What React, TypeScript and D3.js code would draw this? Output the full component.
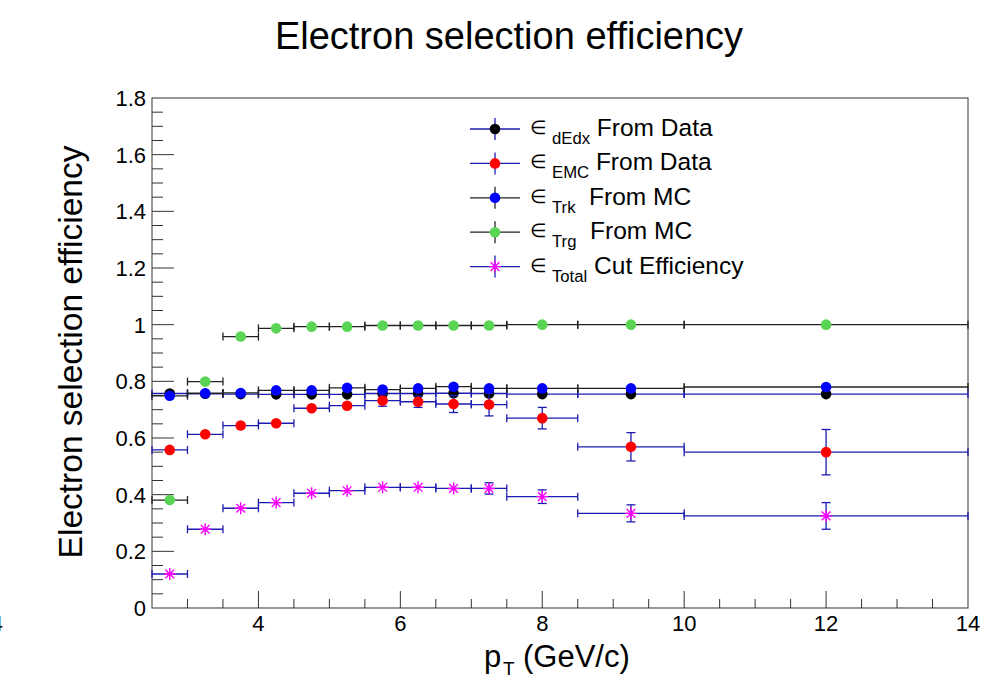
import { useEffect, useRef } from "react";
import * as d3 from "d3";

// bins in pT (GeV/c)
const binLo = [2.5, 3, 3.5, 4, 4.5, 5, 5.5, 6, 6.5, 7, 7.5, 8.5, 10];
const binHi = [3, 3.5, 4, 4.5, 5, 5.5, 6, 6.5, 7, 7.5, 8.5, 10, 14];
const binCenter = [2.75, 3.25, 3.75, 4.25, 4.75, 5.25, 5.75, 6.25, 6.75, 7.25, 8, 9.25, 12];

const effDedx = [0.757, 0.756, 0.755, 0.754, 0.754, 0.754, 0.757, 0.757, 0.758, 0.757, 0.755, 0.755, 0.755];
const errDedx = [0.005, 0.005, 0.005, 0.005, 0.005, 0.005, 0.005, 0.005, 0.005, 0.005, 0.005, 0.005, 0.005];

const effEmc = [0.558, 0.613, 0.644, 0.652, 0.705, 0.714, 0.732, 0.728, 0.72, 0.718, 0.67, 0.569, 0.55];
const errEmc = [0.01, 0.01, 0.01, 0.01, 0.012, 0.012, 0.02, 0.02, 0.03, 0.04, 0.038, 0.05, 0.08];

const effTrk = [0.749, 0.758, 0.759, 0.768, 0.768, 0.777, 0.771, 0.775, 0.781, 0.775, 0.775, 0.775, 0.78];
const errTrk = [0.005, 0.005, 0.005, 0.005, 0.005, 0.005, 0.005, 0.005, 0.005, 0.005, 0.005, 0.005, 0.005];

const effTrg = [0.381, 0.799, 0.958, 0.987, 0.993, 0.993, 0.997, 0.997, 0.997, 0.997, 1.0, 1.0, 1.0];
const errTrg = [0.005, 0.005, 0.005, 0.005, 0.005, 0.005, 0.005, 0.005, 0.005, 0.005, 0.005, 0.005, 0.005];

const effTotal = [0.12, 0.278, 0.352, 0.372, 0.405, 0.414, 0.426, 0.426, 0.422, 0.422, 0.393, 0.334, 0.325];
const errTotal = [0.006, 0.006, 0.006, 0.006, 0.008, 0.008, 0.01, 0.01, 0.015, 0.02, 0.024, 0.03, 0.047];

const yTicks = [0, 0.2, 0.4, 0.6, 0.8, 1, 1.2, 1.4, 1.6, 1.8];
const xTicks = [4, 6, 8, 10, 12, 14];

const series = [
  { key: "dEdx", sub: "dEdx", text: " From Data", eff: effDedx, err: errDedx, marker: "circle", color: "#000000", line: "#1c1cb0" },
  { key: "EMC", sub: "EMC", text: " From Data", eff: effEmc, err: errEmc, marker: "circle", color: "#ff0000", line: "#1c1cb0" },
  { key: "Trk", sub: "Trk", text: "  From MC", eff: effTrk, err: errTrk, marker: "circle", color: "#0000ff", line: "#222222" },
  { key: "Trg", sub: "Trg", text: "  From MC", eff: effTrg, err: errTrg, marker: "circle", color: "#59d454", line: "#222222" },
  { key: "Total", sub: "Total", text: " Cut Efficiency", eff: effTotal, err: errTotal, marker: "star", color: "#ff00ff", line: "#1c1cb0" },
];

const W = 996;
const H = 679;
const FONT = "'Liberation Sans', Arial, Helvetica, sans-serif";

function drawMarker(g: any, kind: string, color: string, cx: number, cy: number) {
  if (kind === "circle") {
    g.append("circle").attr("cx", cx).attr("cy", cy).attr("r", 5.3).attr("fill", color);
  } else {
    const s = 6;
    const d = s * 0.72;
    g.append("path")
      .attr("d", `M${cx - s},${cy}H${cx + s}M${cx},${cy - s}V${cy + s}M${cx - d},${cy - d}L${cx + d},${cy + d}M${cx - d},${cy + d}L${cx + d},${cy - d}`)
      .attr("stroke", color)
      .attr("stroke-width", 1.4)
      .attr("fill", "none");
  }
}

export default function App() {
  const ref = useRef<SVGSVGElement>(null);

  useEffect(() => {
    const svg = d3.select(ref.current);
    svg.selectAll("*").remove();

    const x = d3.scaleLinear().domain([2.5, 14]).range([152, 968]);
    const y = d3.scaleLinear().domain([0, 1.8]).range([608, 98]);

    // frame
    svg.append("rect")
      .attr("x", 152).attr("y", 98)
      .attr("width", 968 - 152).attr("height", 608 - 98)
      .attr("fill", "none").attr("stroke", "#333").attr("stroke-width", 1);

    const axis = svg.append("g").attr("stroke", "#333").attr("stroke-width", 1);
    // x ticks
    d3.range(3, 14, 0.5).forEach((v) => {
      const major = Math.abs(v % 2) < 1e-9;
      axis.append("line")
        .attr("x1", x(v)).attr("x2", x(v))
        .attr("y1", 608).attr("y2", 608 - (major ? 17 : 9));
    });
    // y ticks
    d3.range(0.05, 1.8, 0.05).forEach((v) => {
      const major = Math.abs(v / 0.2 - Math.round(v / 0.2)) < 1e-6;
      axis.append("line")
        .attr("x1", 152).attr("x2", 152 + (major ? 22 : 11))
        .attr("y1", y(v)).attr("y2", y(v));
    });

    const fmt = d3.format("");
    svg.append("g")
      .selectAll("text")
      .data(xTicks)
      .join("text")
      .attr("x", (d) => x(d))
      .attr("y", 631)
      .attr("text-anchor", "middle")
      .attr("font-family", FONT)
      .attr("font-size", 22)
      .text((d) => fmt(d));

    svg.append("g")
      .selectAll("text")
      .data(yTicks)
      .join("text")
      .attr("x", 146)
      .attr("y", (d) => y(d) + 8)
      .attr("text-anchor", "end")
      .attr("font-family", FONT)
      .attr("font-size", 22)
      .text((d) => fmt(d));

    // stray label at the left edge
    svg.append("text")
      .attr("x", 3).attr("y", 631)
      .attr("text-anchor", "end")
      .attr("font-family", FONT).attr("font-size", 22)
      .attr("fill", "#000")
      .text("4");

    // title and axis titles
    svg.append("text")
      .attr("x", 509).attr("y", 49)
      .attr("text-anchor", "middle")
      .attr("font-family", FONT).attr("font-size", 38)
      .text("Electron selection efficiency");

    svg.append("text")
      .attr("transform", "translate(82,352) rotate(-90)")
      .attr("text-anchor", "middle")
      .attr("font-family", FONT).attr("font-size", 33.5)
      .text("Electron selection efficiency");

    svg.append("text")
      .attr("x", 484).attr("y", 667)
      .attr("font-family", FONT).attr("font-size", 31)
      .text("p");
    svg.append("text")
      .attr("x", 503).attr("y", 675)
      .attr("font-family", FONT).attr("font-size", 19)
      .text("T");
    svg.append("text")
      .attr("x", 523).attr("y", 667)
      .attr("font-family", FONT).attr("font-size", 31)
      .text("(GeV/c)");

    // data
    const cap = 4;
    series.forEach((s) => {
      const g = svg.append("g");
      const lines = g.append("g").attr("stroke", s.line).attr("stroke-width", 1.3);
      binCenter.forEach((c, i) => {
        const cy = y(s.eff[i]);
        const x0 = x(binLo[i]);
        const x1 = x(binHi[i]);
        lines.append("line").attr("x1", x0).attr("x2", x1).attr("y1", cy).attr("y2", cy);
        lines.append("line").attr("x1", x0).attr("x2", x0).attr("y1", cy - cap).attr("y2", cy + cap);
        lines.append("line").attr("x1", x1).attr("x2", x1).attr("y1", cy - cap).attr("y2", cy + cap);
        const yHi = y(s.eff[i] + s.err[i]);
        const yLo = y(s.eff[i] - s.err[i]);
        if (yLo - cy > 5.5) {
          const cx = x(c);
          lines.append("line").attr("x1", cx).attr("x2", cx).attr("y1", yHi).attr("y2", yLo);
          lines.append("line").attr("x1", cx - 4.5).attr("x2", cx + 4.5).attr("y1", yHi).attr("y2", yHi);
          lines.append("line").attr("x1", cx - 4.5).attr("x2", cx + 4.5).attr("y1", yLo).attr("y2", yLo);
        }
      });
      binCenter.forEach((c, i) => drawMarker(g, s.marker, s.color, x(c), y(s.eff[i])));
    });

    // legend
    const leg = svg.append("g");
    series.forEach((s, i) => {
      const ry = 129 + i * 34.4;
      leg.append("line").attr("x1", 470).attr("x2", 520).attr("y1", ry).attr("y2", ry)
        .attr("stroke", s.line).attr("stroke-width", 1.3);
      leg.append("line").attr("x1", 495).attr("x2", 495).attr("y1", ry - 11).attr("y2", ry + 11)
        .attr("stroke", s.line).attr("stroke-width", 1.3);
      drawMarker(leg, s.marker, s.color, 495, ry);
      leg.append("text")
        .attr("x", 530).attr("y", ry + 5)
        .attr("font-family", FONT).attr("font-size", 19)
        .text("\u2208");
      const t = leg.append("text")
        .attr("x", 552).attr("y", ry + 15)
        .attr("font-family", FONT).attr("font-size", 16.7)
        .attr("xml:space", "preserve")
        .style("white-space", "pre");
      t.append("tspan").text(s.sub);
      t.append("tspan").attr("dy", -8).attr("font-size", 24.5).text(s.text);
    });
  }, []);

  return (
    <svg
      ref={ref}
      width={W}
      height={H}
      style={{ position: "absolute", left: 0, top: 0, background: "#fff" }}
    />
  );
}
